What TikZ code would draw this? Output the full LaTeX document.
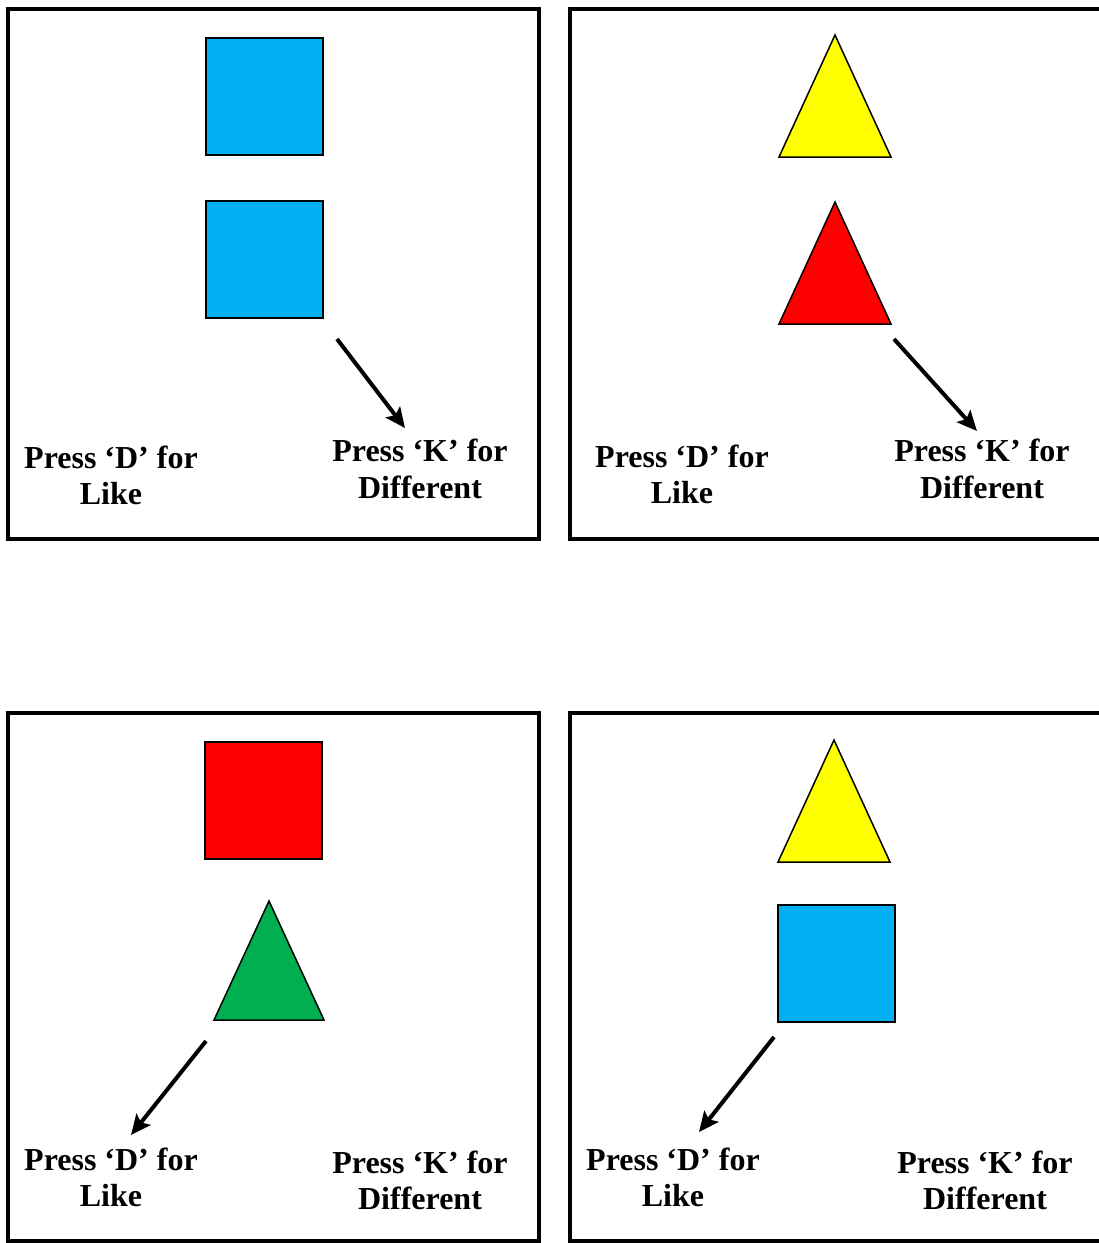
\documentclass[tikz,border=0pt]{standalone}
\usepackage{fontspec}
\setmainfont{Liberation Serif}
\usetikzlibrary{arrows.meta}
\definecolor{cblue}{HTML}{00B0F0}
\definecolor{cred}{HTML}{FF0000}
\definecolor{cyellow}{HTML}{FFFF00}
\definecolor{cgreen}{HTML}{00B050}
\begin{document}
\begin{tikzpicture}[x=1pt,y=-1pt,
  panel/.style={draw=black,line width=4pt},
  sq/.style={draw=black,line width=1.5pt,minimum width=117pt,minimum height=117pt,inner sep=0pt,outer sep=0pt,anchor=north west},
  tri/.style={draw=black,line width=1.5pt,line join=miter},
  lbl/.style={font=\fontsize{32}{36.5}\selectfont\bfseries,align=center,inner sep=0pt,anchor=south},
  arr/.style={line width=4pt,-{Stealth[length=20pt,width=18pt,inset=4pt]}}]
\useasboundingbox (0,0) rectangle (1099,1243);
\clip (0,0) rectangle (1099,1243);
\fill[white] (0,0) rectangle (1099,1243);

% panels
\draw[panel] (8,9) rectangle (539,539);
\draw[panel] (570,9) rectangle (1106,539);
\draw[panel] (8,713) rectangle (539,1241);
\draw[panel] (570,713) rectangle (1106,1241);

% panel 1
\node[sq,fill=cblue] (p1a) at (206,38) {};
\node[sq,fill=cblue] (p1b) at (206,201) {};
\coordinate (a1s) at (337,339);
\coordinate (a1e) at (405,428);
\draw[arr] (a1s) -- (a1e);
\node[lbl] (p1d) at (111,505) {Press ‘D’ for\\Like};
\node[lbl] (p1k) at (420,499) {Press ‘K’ for\\Different};

% panel 2
\draw[tri,fill=cyellow] (835,35) -- (891,157) -- (779,157) -- cycle;
\draw[tri,fill=cred] (835,202) -- (891,324) -- (779,324) -- cycle;
\coordinate (a2s) at (894,339);
\coordinate (a2e) at (977,431);
\draw[arr] (a2s) -- (a2e);
\node[lbl] (p2d) at (682,504) {Press ‘D’ for\\Like};
\node[lbl] (p2k) at (982,499) {Press ‘K’ for\\Different};

% panel 3
\node[sq,fill=cred] (p3a) at (205,742) {};
\draw[tri,fill=cgreen] (269,901) -- (324,1020) -- (214,1020) -- cycle;
\coordinate (a3s) at (206,1041);
\coordinate (a3e) at (131,1135);
\draw[arr] (a3s) -- (a3e);
\node[lbl] (p3d) at (111,1207) {Press ‘D’ for\\Like};
\node[lbl] (p3k) at (420,1210) {Press ‘K’ for\\Different};

% panel 4
\draw[tri,fill=cyellow] (834,740) -- (890,862) -- (778,862) -- cycle;
\node[sq,fill=cblue] (p4b) at (778,905) {};
\coordinate (a4s) at (774,1037);
\coordinate (a4e) at (699,1132);
\draw[arr] (a4s) -- (a4e);
\node[lbl] (p4d) at (673,1207) {Press ‘D’ for\\Like};
\node[lbl] (p4k) at (985,1210) {Press ‘K’ for\\Different};
\end{tikzpicture}
\end{document}
